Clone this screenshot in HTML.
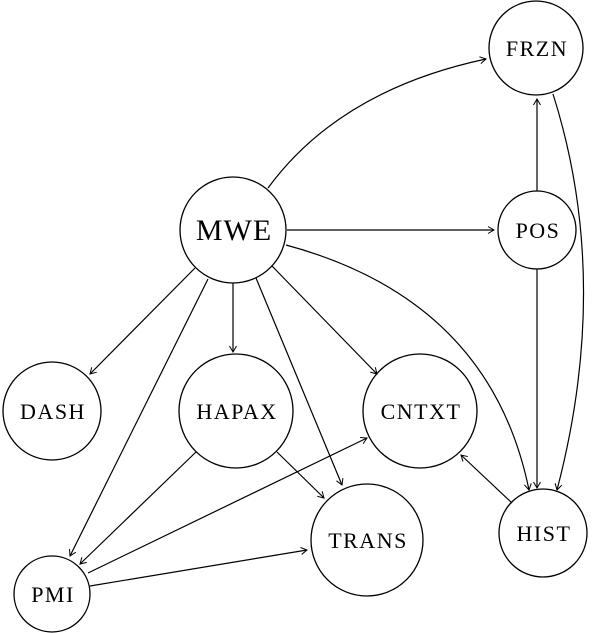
<!DOCTYPE html>
<html><head><meta charset="utf-8"><style>body{margin:0;background:#fff}svg{display:block}.t{font-family:"Liberation Serif","Times New Roman","DejaVu Serif",serif}</style></head><body>
<svg width="606" height="633" viewBox="0 0 606 633" xmlns="http://www.w3.org/2000/svg">
<defs><marker id="a" markerWidth="10" markerHeight="10" refX="8" refY="5" orient="auto" markerUnits="userSpaceOnUse"><polyline points="2,1.5 8,5 2,8.5" fill="none" stroke="#000" stroke-width="1"/></marker></defs>
<g fill="none" stroke="#000" stroke-width="1.3">
<circle cx="233" cy="230" r="53"/>
<circle cx="536" cy="48" r="47"/>
<circle cx="537" cy="230" r="39"/>
<circle cx="52" cy="411" r="49"/>
<circle cx="236" cy="411" r="57"/>
<circle cx="420" cy="411" r="57"/>
<circle cx="367" cy="540" r="56"/>
<circle cx="543" cy="533" r="44"/>
<circle cx="52" cy="594" r="38"/>
</g>
<g fill="none" stroke="#000" stroke-width="1.2" marker-end="url(#a)">
<path d="M268,188 Q340,90 486,59"/>
<path d="M537,191 L537,99"/>
<path d="M287,230 L494,230"/>
<path d="M553,94 Q612,280 557,490"/>
<path d="M286,245 Q490,300 529,490"/>
<path d="M537,269 L537,488"/>
<path d="M512,503 L461,455"/>
<path d="M195,268 L90,374"/>
<path d="M233,283 L233,352"/>
<path d="M272,266 L377,374"/>
<path d="M256,278 L342,485"/>
<path d="M208,279 L70,556"/>
<path d="M196,452 L80,564"/>
<path d="M277,452 L324,498"/>
<path d="M88,573 L367,438"/>
<path d="M90,586 L307,550"/>
</g>
<g class="t" text-anchor="middle" font-size="22" letter-spacing="1.5" fill="#000">
<text class="t" x="234" y="240" font-size="30" letter-spacing="1">MWE</text>
<text class="t" x="537" y="56">FRZN</text>
<text class="t" x="538" y="238">POS</text>
<text class="t" x="53" y="419">DASH</text>
<text class="t" x="237" y="419">HAPAX</text>
<text class="t" x="421" y="419">CNTXT</text>
<text class="t" x="368" y="548">TRANS</text>
<text class="t" x="544" y="541">HIST</text>
<text class="t" x="53" y="602">PMI</text>
</g>
</svg>
</body></html>
